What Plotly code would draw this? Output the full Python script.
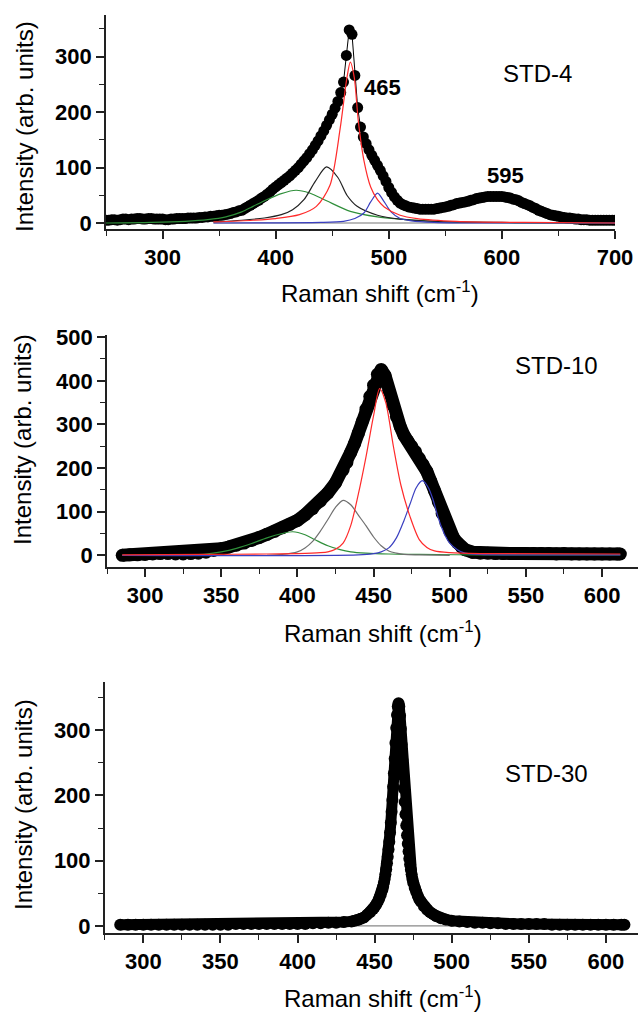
import plotly.graph_objects as go

W, H = 638, 1012
FONT = "Liberation Sans, Arial, sans-serif"

# ---------------- STD-4 : measured spectrum ----------------
std4_shift = [250, 252.5, 255, 257.5, 260, 262.5, 265, 267.5, 270, 272.5, 275, 277.5, 280, 282.5, 285, 287.5, 290, 292.5, 295, 297.5,
              300, 302.5, 305, 307.5, 310, 312.5, 315, 317.5, 320, 322.5, 325, 327.5, 330, 332.5, 335, 337.5, 340, 342.5, 345, 347.5,
              350, 352.5, 355, 357.5, 360, 362.5, 365, 367.5, 370, 372.5, 375, 377.5, 380, 382.5, 385, 387.5, 390, 392.5, 395, 397.5,
              400, 402.5, 405, 407.5, 410, 412.5, 415, 417.5, 420, 422.5, 425, 427.5, 430, 432.5, 435, 437.5, 440, 442.5, 445, 447.5,
              450, 452.5, 455, 457.5, 460, 462.5, 465, 467.5, 470, 472.5, 475, 477.5, 480, 482.5, 485, 487.5, 490, 492.5, 495, 497.5,
              500, 502.5, 505, 507.5, 510, 512.5, 515, 517.5, 520, 522.5, 525, 527.5, 530, 532.5, 535, 537.5, 540, 542.5, 545, 547.5,
              550, 552.5, 555, 557.5, 560, 562.5, 565, 567.5, 570, 572.5, 575, 577.5, 580, 582.5, 585, 587.5, 590, 592.5, 595, 597.5,
              600, 602.5, 605, 607.5, 610, 612.5, 615, 617.5, 620, 622.5, 625, 627.5, 630, 632.5, 635, 637.5, 640, 642.5, 645, 647.5,
              650, 652.5, 655, 657.5, 660, 662.5, 665, 667.5, 670, 672.5, 675, 677.5, 680, 682.5, 685, 687.5, 690, 692.5, 695, 697.5,
              700]
std4_intensity = [5, 5, 6, 6, 5, 6, 7, 7, 6, 7, 7, 8, 8, 7, 7, 8, 8, 7, 7, 7,
                  7, 6, 6, 7, 7, 8, 8, 8, 8, 9, 9, 9, 9, 10, 10, 11, 11, 12, 12, 13,
                  14, 14, 15, 16, 17, 19, 20, 22, 23, 26, 29, 32, 35, 38, 41, 45, 48, 52, 56, 61,
                  65, 69, 73, 77, 81, 85, 90, 95, 100, 106, 112, 118, 125, 132, 140, 148, 157, 166, 176, 186,
                  196, 207, 219, 235, 254, 302, 348, 340, 266, 208, 173, 155, 143, 132, 122, 113, 104, 95, 85, 75,
                  64, 55, 47, 41, 36, 33, 31, 29, 28, 27, 26, 25, 25, 25, 25, 25, 25, 26, 27, 28,
                  29, 30, 32, 33, 35, 36, 37, 38, 39, 41, 42, 44, 45, 46, 47, 48, 48, 48, 48, 48,
                  48, 47, 46, 45, 43, 42, 40, 37, 35, 33, 31, 28, 26, 23, 21, 19, 17, 15, 14, 13,
                  12, 11, 10, 9, 9, 8, 7, 7, 6, 6, 6, 5, 5, 5, 5, 5, 5, 5, 5, 5,
                  5]

# STD-4 : fitted bands
std4_green_x = [250, 290, 320, 340, 356, 370, 380, 392, 405, 418, 430, 445, 466, 490, 510, 540, 580, 640, 700]
std4_green_y = [0, 1, 3, 6, 11, 20, 30, 42, 53, 59, 54, 40, 21, 11, 7, 3, 1, 0, 0]
std4_black_x = [345, 370, 390, 405, 415, 425, 435, 445, 455, 463, 472, 490, 510, 540, 600, 700]
std4_black_y = [2, 5, 9, 15, 24, 42, 75, 101, 82, 50, 30, 14, 7, 3, 1, 0]
std4_red_x = [345, 380, 400, 421, 436, 448, 457, 463, 466, 469.5, 473, 478, 484, 490, 496, 510, 525, 560, 620, 700]
std4_red_y = [2, 5, 8, 15, 30, 68, 170, 262, 290, 262, 185, 113, 65, 42, 29, 14, 8, 3, 1, 0]
std4_blue_x = [345, 440, 460, 470, 478, 484, 490, 496, 502, 510, 520, 540, 560, 700]
std4_blue_y = [0, 1, 3, 8, 18, 38, 54, 38, 20, 8, 4, 1, 0, 0]
std4_base_x = [345, 700]
std4_base_y = [0, 0]

# ---------------- STD-10 : measured spectrum ----------------
std10_shift = [285, 290, 295, 300, 305, 310, 315, 320, 325, 330,
               335, 340, 345, 350, 355, 360, 365, 370, 375, 380,
               385, 390, 395, 400, 405, 410, 415, 420, 425, 430,
               432.5, 435, 437.5, 440, 442.5, 445, 447.5, 450, 452.5, 455,
               457.5, 460, 462.5, 465, 467.5, 470, 472.5, 475, 477.5, 480,
               482.5, 485, 487.5, 490, 492.5, 495, 497.5, 500, 502.5, 505,
               507.5, 510, 515, 520, 525, 530, 535, 540, 545, 550,
               555, 560, 565, 570, 575, 580, 585, 590, 595, 600,
               605, 610, 612]
std10_intensity = [0, 1, 1, 2, 3, 4, 4, 3, 3, 4,
                   5, 7, 11, 15, 19, 23, 28, 34, 41, 48,
                   55, 63, 71, 80, 93, 107, 124, 143, 166, 196,
                   213, 236, 256, 280, 306, 335, 364, 390, 415, 426,
                   412, 378, 345, 318, 295, 275, 262, 250, 238, 222,
                   208, 192, 170, 148, 122, 96, 74, 55, 40, 29,
                   20, 13, 7, 5, 5, 4, 4, 4, 4, 4,
                   4, 4, 4, 3, 4, 3, 3, 3, 3, 3,
                   3, 3, 3]

# STD-10 : fitted bands
std10_green_x = [285, 320, 340, 350, 360, 370, 380, 390, 397, 405, 412, 420, 428, 435, 445, 460, 480, 520, 612]
std10_green_y = [0, 0.5, 3, 8, 16, 27, 40, 50, 54, 47, 35, 22, 13, 8, 5, 3, 2, 1, 1]
std10_gray_x = [380, 390, 400, 405, 410, 415, 420, 425, 430, 435, 440, 445, 450, 455, 460, 465, 470, 480, 500]
std10_gray_y = [0, 2, 8, 17, 32, 55, 82, 110, 126, 116, 92, 68, 42, 22, 10, 5, 2, 1, 0]
std10_red_x = [285, 340, 380, 400, 415, 420, 425, 430, 435, 440, 445, 450, 454, 458, 463, 468, 474, 480, 485, 490, 500, 520, 612]
std10_red_y = [1, 2, 3, 4, 6, 8, 14, 28, 68, 140, 225, 320, 382, 350, 250, 160, 88, 36, 18, 10, 6, 4, 3]
std10_blue_x = [285, 440, 450, 455, 460, 465, 470, 474, 478, 482, 486, 489, 493, 497, 500, 505, 510, 520, 540, 612]
std10_blue_y = [0, 1, 4, 8, 17, 40, 80, 118, 155, 171, 155, 128, 80, 45, 28, 13, 5, 2, 1, 1]

# ---------------- STD-30 : measured spectrum ----------------
std30_shift = [285, 290, 295, 300, 305, 310, 315, 320, 325, 330,
               335, 340, 345, 350, 355, 360, 365, 370, 375, 380,
               385, 390, 395, 400, 405, 410, 415, 420, 425, 430,
               435, 437, 439, 441, 443, 445, 447, 449, 450, 451,
               452, 453, 454, 455, 455.5, 456, 456.5, 457, 457.5, 458,
               458.5, 459, 459.5, 460, 460.5, 461, 461.5, 462, 462.5, 463,
               463.5, 464, 464.5, 465, 465.5, 466, 466.5, 467, 467.5, 468,
               468.5, 469, 469.5, 470, 470.5, 471, 471.5, 472, 472.5, 473,
               473.5, 474, 474.5, 475, 476, 477, 478, 479, 480, 482,
               484, 486, 488, 490, 493, 496, 500, 505, 510, 515,
               520, 525, 530, 535, 540, 545, 550, 555, 560, 565,
               570, 575, 580, 585, 590, 595, 600, 605, 610, 612]
std30_intensity = [2, 2, 2, 2, 2, 2, 2, 2, 2, 2,
                   2, 2, 2, 2, 2, 3, 3, 3, 3, 3,
                   3, 3, 3, 3, 3, 4, 4, 5, 5, 6,
                   7, 8, 9, 11, 13, 17, 21, 26, 29, 33,
                   37, 42, 48, 55, 60, 66, 72, 79, 87, 96,
                   106, 117, 129, 143, 158, 175, 193, 213, 234, 256,
                   280, 303, 323, 336, 341, 336, 322, 302, 278, 254,
                   231, 210, 190, 171, 154, 139, 126, 114, 103, 94,
                   86, 79, 72, 66, 58, 52, 46, 41, 37, 30,
                   25, 21, 18, 15, 12, 10, 8, 7, 6, 5,
                   5, 4, 4, 3, 3, 3, 3, 3, 3, 2,
                   2, 2, 2, 2, 2, 2, 2, 2, 2, 2]
std30_base_x = [285, 612]
std30_base_y = [0, 0]

assert len(std4_shift) == len(std4_intensity)
assert len(std10_shift) == len(std10_intensity)
assert len(std30_shift) == len(std30_intensity)

# pixel frame of each panel: (left, right, top, bottom)
frames = {
    1: (106, 615, 15, 229),
    2: (107, 638, 335, 567),
    3: (104.8, 638, 681.7, 932.7),
}

fig = go.Figure()


def add_points(n, x, y, size, band_width=0, thin_line=False):
    # a band_width > 0 joins neighbouring symbols into one continuous trace
    if band_width:
        fig.add_trace(go.Scatter(
            x=x, y=y, mode="lines", line=dict(color="black", width=band_width),
            xaxis=f"x{n}", yaxis=f"y{n}", hoverinfo="skip"))
    fig.add_trace(go.Scatter(
        x=x, y=y, mode="lines+markers" if thin_line else "markers",
        marker=dict(size=size, color="black", line=dict(width=0)),
        line=dict(color="black", width=1),
        xaxis=f"x{n}", yaxis=f"y{n}", hoverinfo="skip"))


def add_band(n, x, y, color, width=1.2):
    fig.add_trace(go.Scatter(
        x=x, y=y, mode="lines",
        line=dict(color=color, width=width, shape="spline", smoothing=0.8),
        xaxis=f"x{n}", yaxis=f"y{n}", hoverinfo="skip"))


GREEN, RED, BLUE = "#2f8f3a", "#ff2a2a", "#3a3fc0"

# STD-4
add_band(1, std4_base_x, std4_base_y, "#777777")
add_points(1, std4_shift, std4_intensity, 11, thin_line=True)
add_band(1, std4_green_x, std4_green_y, GREEN)
add_band(1, std4_black_x, std4_black_y, "#222222")
add_band(1, std4_blue_x, std4_blue_y, BLUE)
add_band(1, std4_red_x, std4_red_y, RED)

# STD-10
add_points(2, std10_shift, std10_intensity, 13, band_width=13)
add_band(2, std10_green_x, std10_green_y, GREEN)
add_band(2, std10_gray_x, std10_gray_y, "#707070")
add_band(2, std10_blue_x, std10_blue_y, BLUE)
add_band(2, std10_red_x, std10_red_y, RED)

# STD-30
add_band(3, std30_base_x, std30_base_y, "#888888")
add_points(3, std30_shift, std30_intensity, 12, band_width=11)

ranges = {
    1: ([250, 700], [-10.8, 374.9], 100, 50),
    2: ([275, 623.6], [-26.8, 505], 50, 25),
    3: ([275, 620.8], [-10.3, 374], 50, 25),
}

tickfont = dict(family=FONT, size=22, color="black", weight="bold")
axis_common = dict(showline=True, linecolor="#222222", linewidth=1.6,
                   ticks="outside", ticklen=8, tickwidth=1.6, tickcolor="#222222",
                   showgrid=False, zeroline=False, tickfont=tickfont, automargin=False)

layout = dict(width=W, height=H, margin=dict(l=0, r=0, t=0, b=0),
              paper_bgcolor="white", plot_bgcolor="white", showlegend=False)

for n, (l, r, t, b) in frames.items():
    xr, yr, xdt, xminor = ranges[n]
    sfx = "" if n == 1 else str(n)
    layout[f"xaxis{sfx}"] = dict(
        domain=[l / W, r / W], range=xr, anchor=f"y{n}", dtick=xdt,
        minor=dict(dtick=xminor, ticks="outside", ticklen=5, tickwidth=1.4, tickcolor="#222222"),
        **axis_common)
    layout[f"yaxis{sfx}"] = dict(
        domain=[1 - b / H, 1 - t / H], range=yr, anchor=f"x{n}", dtick=100,
        minor=dict(dtick=50, ticks="outside", ticklen=5, tickwidth=1.4, tickcolor="#222222"),
        **axis_common)

fig.update_layout(**layout)


def label(text, px, py, size=24, bold=False, angle=0):
    fig.add_annotation(
        text=text, x=px / W, y=1 - py / H, xref="paper", yref="paper",
        showarrow=False, xanchor="center", yanchor="middle", textangle=angle,
        font=dict(family=FONT, size=size, color="black", weight="bold" if bold else "normal"))


XT = "Raman shift (cm<sup>-1</sup>)"
YT = "Intensity (arb. units)"
label(YT, 24, 127, angle=-90)
label(YT, 23, 440, angle=-90)
label(YT, 23, 805, angle=-90)
label(XT, 380, 292)
label(XT, 383, 632)
label(XT, 383, 997)

label("STD-4", 537, 73)
label("STD-10", 556, 365)
label("STD-30", 546, 773)
label("465", 382, 87, size=22, bold=True)
label("595", 505, 175, size=22, bold=True)

fig.write_html("out.html")
